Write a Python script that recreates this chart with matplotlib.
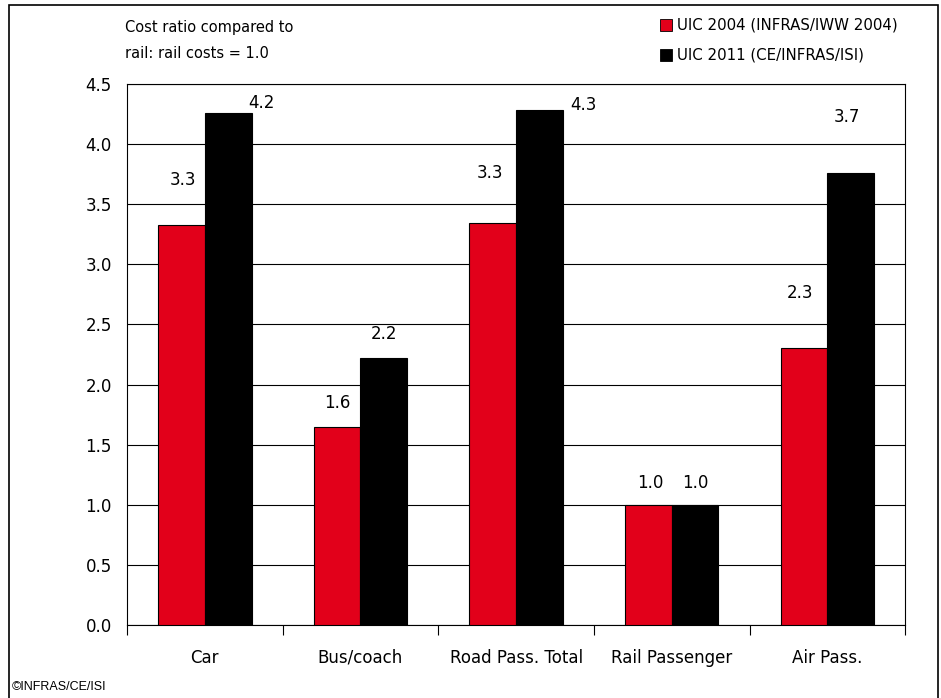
import matplotlib.pyplot as plt
import numpy as np
from matplotlib.patches import Rectangle

# Datos
categorias = ['Car', 'Bus/coach', 'Road Pass. Total', 'Rail Passenger', 'Air Pass.']
uic_2004 = [3.33, 1.65, 3.34, 1.0, 2.30]
uic_2011 = [4.26, 2.22, 4.28, 1.0, 3.76]
etiquetas_2004 = ['3.3', '1.6', '3.3', '1.0', '2.3']
etiquetas_2011 = ['4.2', '2.2', '4.3', '1.0', '3.7']
serie_2004 = 'UIC 2004 (INFRAS/IWW 2004)'
serie_2011 = 'UIC 2011 (CE/INFRAS/ISI)'

rojo = '#E2001A'
plt.rcParams['font.family'] = 'DejaVu Sans'

fig = plt.figure(figsize=(9.41, 6.98), dpi=100)
ax = fig.add_axes([0.135, 0.1046, 0.827, 0.7751])

x = np.arange(len(categorias))
ancho = 0.3
ax.bar(x - ancho / 2, uic_2004, ancho, color=rojo, edgecolor='black', linewidth=0.8, zorder=3)
ax.bar(x + ancho / 2, uic_2011, ancho, color='black', edgecolor='black', linewidth=0.8, zorder=3)

# Etiquetas de valores (desplazamientos en puntos, como en el original)
desp_2004 = [(1, 32), (0, 17), (-2, 36), (1, 16), (-3, 40)]
desp_2011 = [(24, 7), (0, 17), (32, 4), (0, 16), (-3, 40)]
for i in range(len(categorias)):
    ax.annotate(etiquetas_2004[i], (x[i] - ancho / 2, uic_2004[i]), xytext=desp_2004[i],
                textcoords='offset points', ha='center', va='center', fontsize=12)
    ax.annotate(etiquetas_2011[i], (x[i] + ancho / 2, uic_2011[i]), xytext=desp_2011[i],
                textcoords='offset points', ha='center', va='center', fontsize=12)

ax.set_xlim(-0.5, len(categorias) - 0.5)
ax.set_ylim(0, 4.5)
ax.set_yticks(np.arange(0, 4.51, 0.5))
ax.set_yticklabels(['%.1f' % v for v in np.arange(0, 4.51, 0.5)], fontsize=12)
ax.yaxis.grid(True, color='black', linewidth=0.8)
ax.set_axisbelow(True)
ax.tick_params(axis='y', length=0, pad=11)

# Marcas del eje x entre categorias
ax.set_xticks(np.arange(-0.5, len(categorias), 1.0))
ax.set_xticklabels([])
ax.tick_params(axis='x', length=7, direction='out', width=0.8)
ax.set_xticks(x, minor=True)
ax.set_xticklabels(categorias, minor=True, fontsize=12)
ax.tick_params(axis='x', which='minor', length=0, pad=17)

for s in ax.spines.values():
    s.set_linewidth(0.8)

# Textos
fig.text(0.133, 0.961, 'Cost ratio compared to', fontsize=10.5, va='center')
fig.text(0.133, 0.924, 'rail: rail costs = 1.0', fontsize=10.5, va='center')

fig.patches.append(Rectangle((0.7015, 0.956), 0.0125, 0.017, transform=fig.transFigure,
                             facecolor=rojo, edgecolor='black', linewidth=0.6))
fig.patches.append(Rectangle((0.7015, 0.913), 0.0125, 0.017, transform=fig.transFigure,
                             facecolor='black', edgecolor='black', linewidth=0.6))
fig.text(0.719, 0.964, serie_2004, fontsize=10.8, va='center')
fig.text(0.719, 0.921, serie_2011, fontsize=10.8, va='center')

fig.text(0.012, 0.016, '\u00a9INFRAS/CE/ISI', fontsize=9, family='Liberation Sans', va='center')

# Marco exterior
fig.patches.append(Rectangle((0.0096, -0.02), 0.987, 1.013, transform=fig.transFigure,
                             fill=False, edgecolor='black', linewidth=1.2))

plt.savefig('out.png', dpi=100)
